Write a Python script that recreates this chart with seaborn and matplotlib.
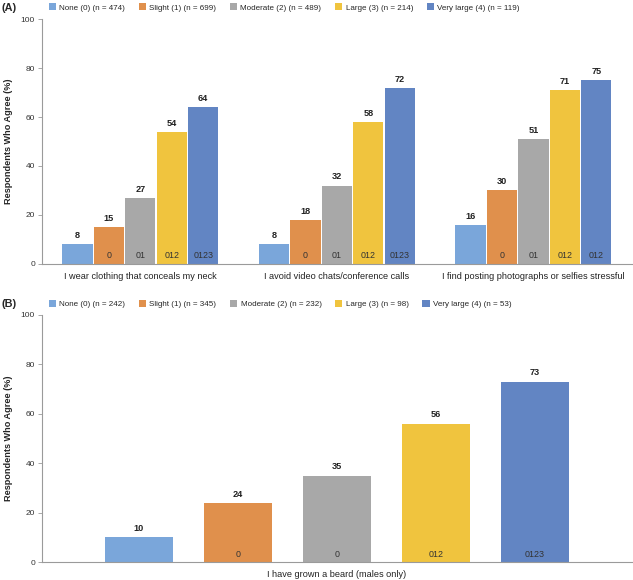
import pandas as pd
import matplotlib.pyplot as plt
import seaborn as sns
from matplotlib.patches import Patch

# Data
levels = ['None (0)', 'Slight (1)', 'Moderate (2)', 'Large (3)', 'Very large (4)']
n_a = [474, 699, 489, 214, 119]
n_b = [242, 345, 232, 98, 53]
colors = ['#7AA6DA', '#E0904C', '#A8A8A8', '#F0C43E', '#6285C3']

items_a = ['I wear clothing that conceals my neck',
           'I avoid video chats/conference calls',
           'I find posting photographs or selfies stressful']
pct_a = [[8, 15, 27, 54, 64],
         [8, 18, 32, 58, 72],
         [16, 30, 51, 71, 75]]
sig_a = [['', '0', '01', '012', '0123'],
         ['', '0', '01', '012', '0123'],
         ['', '0', '01', '012', '012']]

items_b = ['I have grown a beard (males only)']
pct_b = [[10, 24, 35, 56, 73]]
sig_b = [['', '0', '0', '012', '0123']]


def to_long(items, pcts, sigs):
    rows = []
    for item, vals, sg in zip(items, pcts, sigs):
        for lev, v, s in zip(levels, vals, sg):
            rows.append({'item': item, 'level': lev, 'pct': v, 'sig': s})
    return pd.DataFrame(rows)


df_a = to_long(items_a, pct_a, sig_a)
df_b = to_long(items_b, pct_b, sig_b)

sns.set_style('white')
plt.rcParams['font.family'] = ['Liberation Sans', 'DejaVu Sans']

fig = plt.figure(figsize=(6.33, 5.8), dpi=100)
ax_a = fig.add_axes([0.0664, 0.545, 0.9316, 0.422])
ax_b = fig.add_axes([0.0664, 0.031, 0.9316, 0.426])

spine_col = '#9A9A9A'


def draw_panel(ax, df, items, sigs, width, gap, ns, tag, leg_y, tag_y):
    sns.barplot(data=df, x='item', y='pct', hue='level', hue_order=levels,
                palette=colors, width=width, gap=gap, ax=ax, legend=False,
                saturation=1, edgecolor='none')
    ax.set_ylim(0, 100)
    ax.set_xlim(-0.5, len(items) - 0.5)
    ax.set_yticks(range(0, 101, 20))
    ax.tick_params(axis='y', labelsize=6, length=3, width=0.6,
                   direction='out', left=True, pad=2,
                   colors=spine_col, labelcolor='#333333')
    ax.tick_params(axis='x', labelsize=6.6, length=0, pad=6, labelcolor='#222222')
    ax.set_xticks(range(len(items)), items)
    ax.set_xticks([i + 0.5 for i in range(len(items) - 1)], minor=True)
    ax.tick_params(axis='x', which='minor', length=3, width=0.6,
                   color=spine_col, direction='out')
    ax.set_xlabel('')
    ax.set_ylabel('Respondents Who Agree (%)', fontsize=6.6,
                  fontweight='bold', labelpad=6)
    for side in ['top', 'right']:
        ax.spines[side].set_visible(False)
    for side in ['left', 'bottom']:
        ax.spines[side].set_color(spine_col)
        ax.spines[side].set_linewidth(0.8)

    for k, cont in enumerate(ax.containers):
        ax.bar_label(cont, fmt='%d', padding=3, fontsize=6.6,
                     fontweight='bold', color='#222222')
        for j, bar in enumerate(cont):
            s = sigs[j][k]
            if s:
                ax.annotate(s, (bar.get_x() + bar.get_width() / 2, 0),
                            xytext=(0, 2.5), textcoords='offset points',
                            ha='center', va='bottom', fontsize=6.4,
                            color='#333333')

    handles = [Patch(facecolor=c, edgecolor='none') for c in colors]
    labels = [f'{lev} (n = {n})' for lev, n in zip(levels, ns)]
    fig.legend(handles, labels, loc='center left', bbox_to_anchor=(0.077, leg_y),
               ncol=5, frameon=False, fontsize=5.8, handlelength=0.9,
               handleheight=0.9, handletextpad=0.4, columnspacing=1.7,
               borderaxespad=0, borderpad=0)
    fig.text(0.003, tag_y, tag, fontsize=7.8, fontweight='bold',
             va='center', ha='left')


draw_panel(ax_a, df_a, items_a, sig_a, 0.8, 0.04, n_a, '(A)', 0.987, 0.987)
draw_panel(ax_b, df_b, items_b, sig_b, 0.84, 0.31, n_b, '(B)', 0.476, 0.476)

fig.savefig('out.png', dpi=100)
